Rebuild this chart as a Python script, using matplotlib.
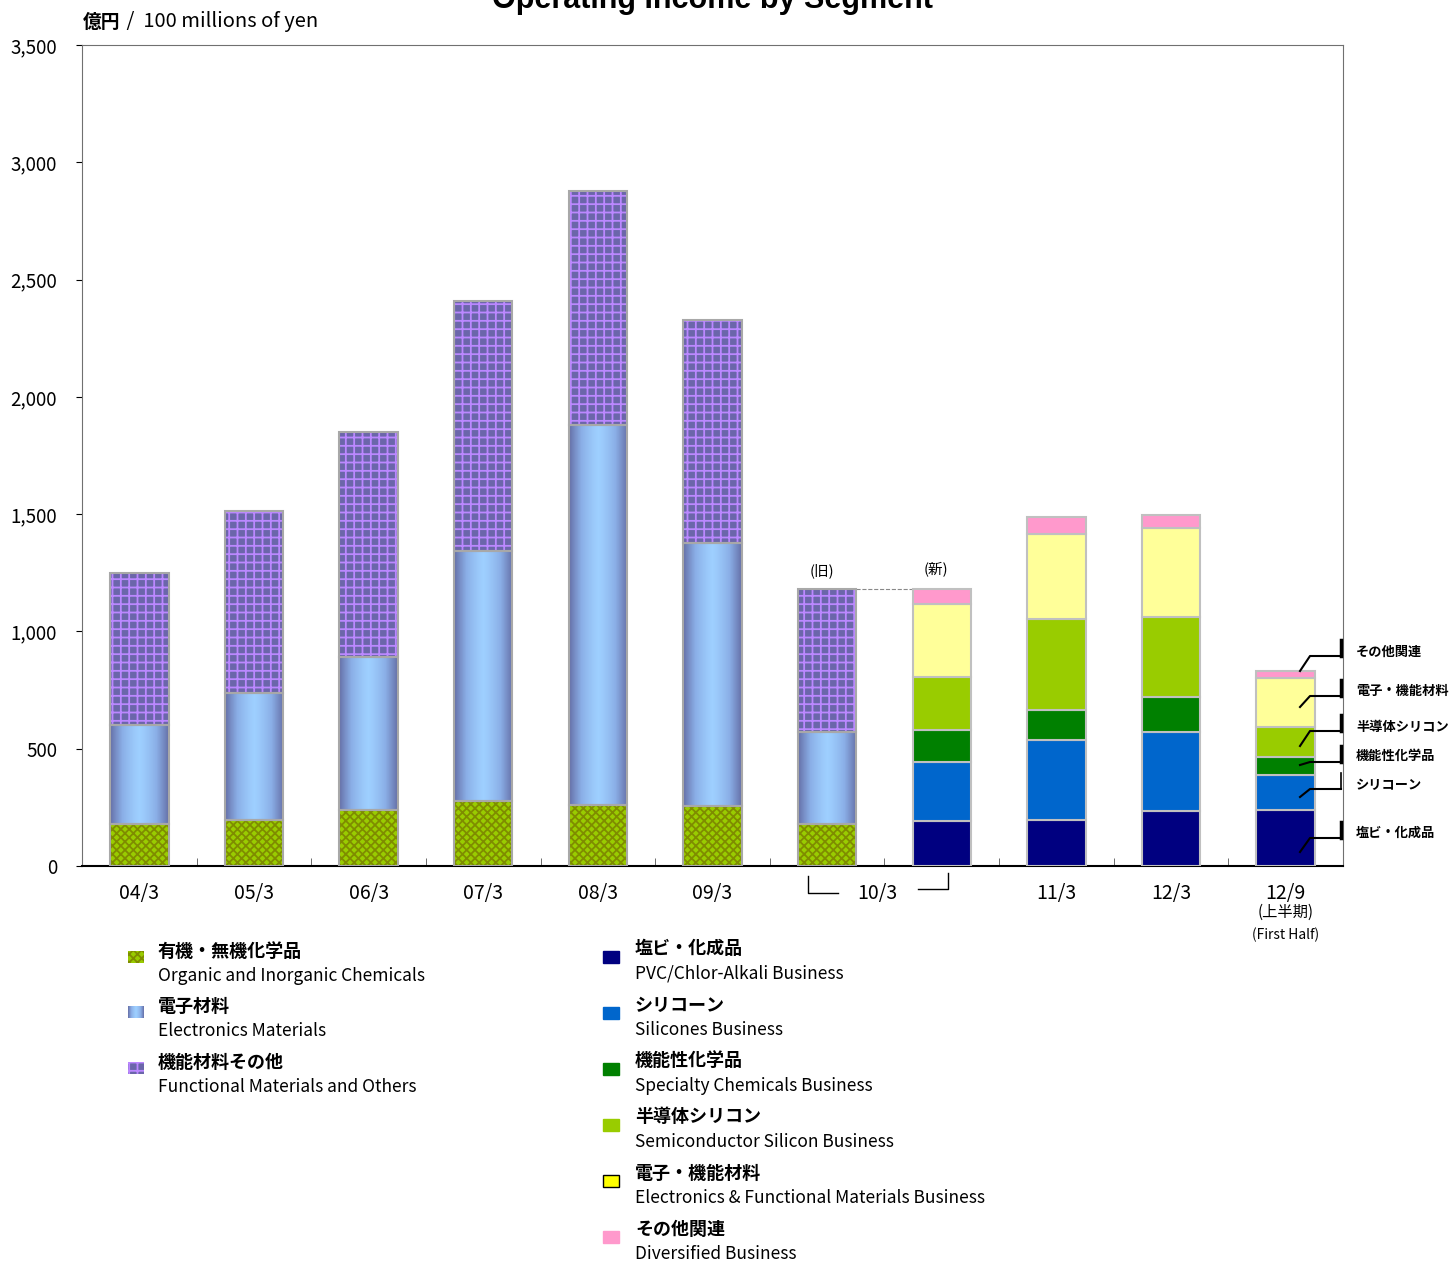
import numpy as np
import matplotlib.pyplot as plt
from matplotlib.patches import Rectangle
from matplotlib.lines import Line2D
from matplotlib.colors import LinearSegmentedColormap

plt.rcParams['font.family'] = ['Noto Sans CJK JP', 'DejaVu Sans']
plt.rcParams['hatch.linewidth'] = 1.3

# old segments (04/3 .. 10/3 old basis), 100 millions of yen
old_years = ['04/3', '05/3', '06/3', '07/3', '08/3', '09/3', '10/3']
organic = [179, 196, 239, 277, 260, 256, 179]
electronics = [422, 541, 652, 1066, 1620, 1121, 392]
functional = [648, 776, 959, 1066, 997, 951, 610]

# new segments (10/3 new basis .. 12/9 first half)
new_years = ['10/3', '11/3', '12/3', '12/9']
pvc = [192, 196, 234, 239]
silicones = [251, 341, 337, 149]
specialty = [137, 128, 149, 77]
semicon = [226, 388, 341, 128]
elec_func = [311, 362, 380, 208]
diversified = [64, 73, 55, 30]

tick_pos = [0, 1, 2, 3, 4, 5, 8, 9, 10]
tick_labels = ['04/3', '05/3', '06/3', '07/3', '08/3', '09/3', '11/3', '12/3', '12/9']

old_names = [('有機・無機化学品', 'Organic and Inorganic Chemicals'),
             ('電子材料', 'Electronics Materials'),
             ('機能材料その他', 'Functional Materials and Others')]
new_names = [('塩ビ・化成品', 'PVC/Chlor-Alkali Business'),
             ('シリコーン', 'Silicones Business'),
             ('機能性化学品', 'Specialty Chemicals Business'),
             ('半導体シリコン', 'Semiconductor Silicon Business'),
             ('電子・機能材料', 'Electronics & Functional Materials Business'),
             ('その他関連', 'Diversified Business')]
new_colors = ['#000080', '#0066cc', '#008000', '#99cc00', '#ffff99', '#ff99cc']

fig = plt.figure(figsize=(14.5, 12.62), dpi=100)
ax = fig.add_axes([82/1450, 1-866/1262, 1261/1450, 821/1262])

W = 0.51
x_old = np.arange(len(old_years))
x_new = np.arange(len(old_years), len(old_years) + len(new_years))
edge = '#a8a8a8'

# organic: checkered green
ax.bar(x_old, organic, W, color='#99cc00', edgecolor='#7f8c00', hatch='xxxx', lw=0, zorder=2)
ax.bar(x_old, organic, W, fill=False, edgecolor=edge, lw=1.5, zorder=4)

# electronics: horizontal gradient
grad = np.abs(np.linspace(-1, 1, 80))[None, :] ** 1.3
cm = LinearSegmentedColormap.from_list('el', ['#9ecfff', '#8aaee6', '#6670a8'])
for xi, b, h in zip(x_old, organic, electronics):
    r = Rectangle((xi - W/2, b), W, h, facecolor='none', edgecolor=edge, lw=1.5, zorder=4)
    ax.add_patch(r)
    im = ax.imshow(grad, cmap=cm, extent=(xi - W/2, xi + W/2, b, b + h),
                   aspect='auto', zorder=2, interpolation='bilinear')
    im.set_clip_path(r)

# functional: purple grid
bot = np.array(organic) + np.array(electronics)
ax.bar(x_old, functional, W, bottom=bot, color='#6b66aa', edgecolor='#bb88ff', hatch='++', lw=0, zorder=2)
ax.bar(x_old, functional, W, bottom=bot, fill=False, edgecolor=edge, lw=1.5, zorder=4)

# new segments
bottom = np.zeros(len(new_years))
for vals, c in zip([pvc, silicones, specialty, semicon, elec_func, diversified], new_colors):
    ax.bar(x_new, vals, W, bottom=bottom, color=c, edgecolor='#c0c0c0', lw=1.5, zorder=3)
    bottom += np.array(vals)

# dashed link between old and new 10/3
tot_old = bot[-1] + functional[-1]
ax.plot([x_old[-1] + W/2, x_new[0] - W/2], [tot_old, tot_old], ls='--', color='#888888', lw=0.8, zorder=1)

ax.set_xlim(-0.5, 10.5)
ax.set_ylim(0, 3500)
ax.set_yticks(np.arange(0, 3501, 500))
ax.set_yticklabels([f'{v:,}' for v in range(0, 3501, 500)], fontsize=13.5)
ax.tick_params(axis='y', length=4, pad=14)
ax.set_xticks(tick_pos)
ax.set_xticklabels(tick_labels, fontsize=14)
ax.tick_params(axis='x', which='major', length=0, pad=12)
ax.set_xticks(np.arange(0.5, 10.5, 1), minor=True)
ax.tick_params(axis='x', which='minor', direction='in', length=6, color='#555555')
for s in ['top', 'right', 'left']:
    ax.spines[s].set_color('#707070')
ax.spines['bottom'].set_linewidth(1.5)

# overlay in pixel coordinates for annotations and legend
ov = fig.add_axes([0, 0, 1, 1], zorder=5)
ov.set_xlim(0, 1450)
ov.set_ylim(1262, 0)
ov.axis('off')
ov.patch.set_alpha(0)

ov.text(712, 0, 'Operating Income by Segment', ha='center', va='center', fontsize=22,
        fontweight='bold', family=['Liberation Sans', 'DejaVu Sans'])
ov.text(83, 22, '億円', ha='left', va='center', fontsize=13.5, fontweight='bold')
ov.text(122, 22, ' /  100 millions of yen', ha='left', va='center', fontsize=14.5)

ov.text(822, 571, '(旧)', ha='center', va='center', fontsize=10.5)
ov.text(936, 569, '(新)', ha='center', va='center', fontsize=10.5)

# 10/3 bracket label
ov.text(877, 894, '10/3', ha='center', va='center', fontsize=14)
ov.add_line(Line2D([808, 808, 838], [876, 893, 893], color='black', lw=1))
ov.add_line(Line2D([918, 948, 948], [889, 889, 873], color='black', lw=1))
ov.text(1286, 912, '(上半期)', ha='center', va='center', fontsize=11)
ov.text(1286, 935, '(First Half)', ha='center', va='center', fontsize=10)

# callouts on the 12/9 bar
callouts = [('その他関連', 671, 656, 652, 2.5),
            ('電子・機能材料', 707, 696, 691, 2.5),
            ('半導体シリコン', 746, 731, 727, 2.5),
            ('機能性化学品', 765, 762, 756, 2.5),
            ('シリコーン', 797, 789, 785, 1.2),
            ('塩ビ・化成品', 852, 838, 833, 2.5)]
for lab, y0, yh, yt, vw in callouts:
    ov.add_line(Line2D([1300, 1310, 1341], [y0, yh, yh], color='black', lw=1.5))
    ov.add_line(Line2D([1341, 1341], [yh, yh - 16], color='black', lw=vw))
    ov.text(1356, yt, lab, ha='left', va='center', fontsize=9.5, fontweight='bold')

# legend, old segments
for i, (jp, en) in enumerate(old_names):
    y = 957 + i * 55.5
    if i == 0:
        ov.add_patch(Rectangle((128, y - 6), 16, 12, facecolor='#99cc00', edgecolor='#7f8c00', hatch='xxxx', lw=0))
    elif i == 1:
        ov.imshow(grad, cmap=cm, extent=(128, 144, y + 6, y - 6), aspect='auto', interpolation='bilinear')
    else:
        ov.add_patch(Rectangle((128, y - 6), 16, 12, facecolor='#6b66aa', edgecolor='#bb88ff', hatch='++', lw=0))
    ov.text(158, y - 6, jp, ha='left', va='center', fontsize=13, fontweight='bold')
    ov.text(158, y + 19, en, ha='left', va='center', fontsize=12.5)

# legend, new segments
leg_colors = ['#000080', '#0066cc', '#008000', '#99cc00', '#ffff00', '#ff99cc']
for i, ((jp, en), c) in enumerate(zip(new_names, leg_colors)):
    y = 957 + i * 56
    ov.add_patch(Rectangle((603, y - 6), 16, 12, facecolor=c,
                           edgecolor='black' if c == '#ffff00' else c, lw=1))
    ov.text(635, y - 8, jp, ha='left', va='center', fontsize=13, fontweight='bold')
    ov.text(635, y + 17, en, ha='left', va='center', fontsize=12.5)

ov.set_xlim(0, 1450)
ov.set_ylim(1262, 0)
fig.savefig('out.png', dpi=100)
